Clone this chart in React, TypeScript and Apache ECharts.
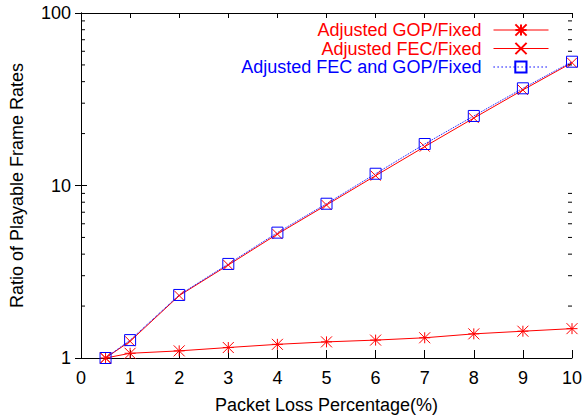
import React, { useEffect, useRef } from "react";
import * as echarts from "echarts";

// Packet loss percentages (x) and the three playable-frame-rate ratios (y, log scale)
const lossPct = [0.5, 1, 2, 3, 4, 5, 6, 7, 8, 9, 10];
const gopRatio = [1, 1.065, 1.1, 1.15, 1.2, 1.24, 1.27, 1.31, 1.38, 1.43, 1.48];
const fecRatio = [1, 1.25, 2.3, 3.46, 5.23, 7.71, 11.4, 16.8, 24.6, 35.8, 51.5];
const fecGopRatio = [1, 1.27, 2.32, 3.51, 5.33, 7.84, 11.7, 17.4, 25.3, 36.6, 52.2];

const seriesNames = ["Adjusted GOP/Fixed", "Adjusted FEC/Fixed", "Adjusted FEC and GOP/Fixed"];
const xTicks = { min: 0, max: 10, interval: 1 };
const yRange = { min: 1, max: 100 };
// minor log ticks between the decades
const minorTickValues = [2, 3, 4, 5, 6, 7, 8, 9, 20, 30, 40, 50, 60, 70, 80, 90];

const FONT = "'Liberation Sans', Arial, sans-serif";
const RED = "#ff0000";
const BLUE = "#0000ff";

const starPath = "path://M0 0L10 10M10 0L0 10M0 5L10 5M5 0L5 10";
const crossPath = "path://M0 0L10 10M10 0L0 10";
const boxPath = "path://M0 0L10 0L10 10L0 10Z";

const pairs = (ys: number[]) => lossPct.map((x, i) => [x, ys[i]]);

export default function App() {
  const ref = useRef<HTMLDivElement>(null);

  useEffect(() => {
    if (!ref.current) return;
    const chart = echarts.init(ref.current, null, { renderer: "svg" });

    const axisLine = { show: true, lineStyle: { color: "#000", width: 1 } };
    const labelStyle = { color: "#000", fontSize: 18, fontFamily: FONT };

    const legendBase = {
      orient: "horizontal",
      align: "right",
      right: 33,
      itemWidth: 55,
      itemHeight: 14,
      selectedMode: false,
      padding: 0,
    };
    const legendText = (color: string) => ({
      ...labelStyle,
      color,
      lineHeight: 17,
      padding: [0, 7, 0, 0],
    });

    const lineSeries = (
      name: string,
      ys: number[],
      color: string,
      symbol: string,
      size: number,
      dotted: boolean
    ) => ({
      name,
      type: "line",
      data: pairs(ys),
      symbol,
      symbolSize: size,
      showSymbol: true,
      lineStyle: { color, width: 1, type: dotted ? "dotted" : "solid" },
      itemStyle: { color: "rgba(0,0,0,0)", borderColor: color, borderWidth: 1 },
      emphasis: { disabled: true },
      clip: false,
    });

    chart.setOption({
      animation: false,
      backgroundColor: "#fff",
      textStyle: { fontFamily: FONT },
      grid: { left: 81, right: 10, top: 13, bottom: 59, outerBoundsMode: "none" },
      legend: [
        {
          ...legendBase,
          top: 21,
          data: [seriesNames[0]],
          lineStyle: { width: 1, type: "solid" },
          textStyle: legendText(RED),
        },
        {
          ...legendBase,
          top: 39.5,
          data: [seriesNames[1]],
          lineStyle: { width: 1, type: "solid" },
          textStyle: legendText(RED),
        },
        {
          ...legendBase,
          top: 58,
          data: [seriesNames[2]],
          lineStyle: { width: 1.2, type: [1.5, 2.5] },
          textStyle: legendText(BLUE),
        },
      ],
      xAxis: [
        {
          type: "value",
          position: "bottom",
          ...xTicks,
          axisLine,
          axisTick: { show: true, inside: true, length: 8, lineStyle: { color: "#000" } },
          axisLabel: { ...labelStyle, margin: 11 },
          splitLine: { show: false },
          name: "Packet Loss Percentage(%)",
          nameLocation: "middle",
          nameGap: 38,
          nameTextStyle: labelStyle,
        },
        {
          type: "value",
          position: "top",
          ...xTicks,
          axisLine,
          axisTick: { show: true, inside: true, length: 5, lineStyle: { color: "#000" } },
          axisLabel: { show: false },
          splitLine: { show: false },
        },
      ],
      yAxis: [
        {
          type: "log",
          logBase: 10,
          position: "left",
          ...yRange,
          axisLine,
          axisTick: { show: true, inside: true, length: 6, lineStyle: { color: "#000" } },
          axisLabel: { ...labelStyle, margin: 10 },
          splitLine: { show: false },
          name: "Ratio of Playable Frame Rates",
          nameLocation: "middle",
          nameGap: 55,
          nameTextStyle: labelStyle,
        },
        {
          type: "log",
          logBase: 10,
          position: "right",
          ...yRange,
          axisLine,
          axisTick: { show: true, inside: true, length: 6, lineStyle: { color: "#000" } },
          axisLabel: { show: false },
          splitLine: { show: false },
        },
      ],
      series: [
        lineSeries(seriesNames[0], gopRatio, RED, starPath, 11, false),
        lineSeries(seriesNames[1], fecRatio, RED, crossPath, 10, false),
        lineSeries(seriesNames[2], fecGopRatio, BLUE, boxPath, 11, true),
      ],
    });

    // Minor log ticks on both vertical borders, placed through the axis scales
    const minorTicks: any[] = [];
    minorTickValues.forEach((v) => {
      const l = chart.convertToPixel({ xAxisIndex: 0, yAxisIndex: 0 }, [xTicks.min, v]) as number[];
      const r = chart.convertToPixel({ xAxisIndex: 0, yAxisIndex: 0 }, [xTicks.max, v]) as number[];
      if (!l || !r) return;
      minorTicks.push(
        { type: "line", shape: { x1: l[0], y1: l[1], x2: l[0] + 4, y2: l[1] }, style: { stroke: "#000", lineWidth: 1 }, z: 10 },
        { type: "line", shape: { x1: r[0] - 4, y1: r[1], x2: r[0], y2: r[1] }, style: { stroke: "#000", lineWidth: 1 }, z: 10 }
      );
    });
    chart.setOption({ graphic: minorTicks });

    return () => chart.dispose();
  }, []);

  return (
    <div
      ref={ref}
      style={{ position: "absolute", left: 0, top: 0, width: 582, height: 417 }}
    />
  );
}
